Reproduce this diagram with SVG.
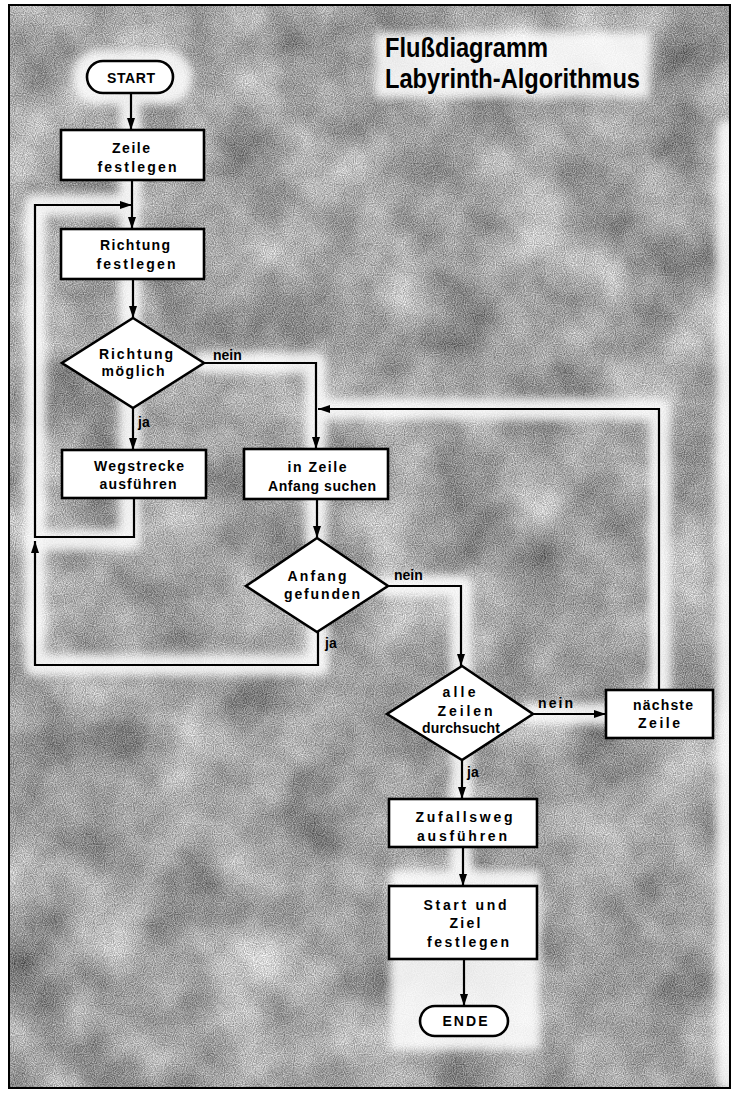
<svg xmlns="http://www.w3.org/2000/svg" width="733" height="1093" viewBox="0 0 733 1093">
<style>
.node{fill:#fff;stroke:#000;stroke-width:2.6}
.t{font-family:"Liberation Sans",Arial,sans-serif;font-size:14px;font-weight:bold;fill:#000;text-anchor:middle}
.lbl{font-family:"Liberation Sans",Arial,sans-serif;font-size:14px;font-weight:bold;fill:#000}
.title{font-family:"Liberation Sans Narrow","Liberation Sans",Arial,sans-serif;font-size:27px;font-weight:bold;fill:#000}
.c{fill:none;stroke:#000;stroke-width:2.2}
.halo{fill:none;stroke:#fff;stroke-width:22;stroke-linejoin:round;stroke-linecap:round}
</style>
<defs>
<marker id="ah" viewBox="0 0 12 8" refX="12" refY="4" markerWidth="12" markerHeight="8" markerUnits="userSpaceOnUse" orient="auto">
<path d="M0,0 L12,4 L0,8 z" fill="#000"/>
</marker>
<filter id="tex" x="0" y="0" width="100%" height="100%" color-interpolation-filters="sRGB">
<feTurbulence type="fractalNoise" baseFrequency="0.014" numOctaves="4" seed="7" result="b0"/>
<feColorMatrix in="b0" type="matrix" values="1 0 0 0 0  1 0 0 0 0  1 0 0 0 0  0 0 0 0 1" result="blot"/>
<feTurbulence type="fractalNoise" baseFrequency="0.9" numOctaves="1" seed="3" result="f0"/>
<feColorMatrix in="f0" type="matrix" values="1 0 0 0 0  1 0 0 0 0  1 0 0 0 0  0 0 0 0 1" result="fine"/>
<feComposite in="blot" in2="fine" operator="arithmetic" k1="0" k2="0.6" k3="0.7" k4="-0.1" result="mix"/>
<feColorMatrix in="mix" type="matrix" values="0.9 0 0 0 0.14  0.9 0 0 0 0.14  0.9 0 0 0 0.14  0 0 0 0 1"/>
</filter>
<filter id="soft" x="-10%" y="-10%" width="120%" height="120%">
<feGaussianBlur stdDeviation="4"/>
</filter>
</defs>

<g id="background">
<rect x="0" y="0" width="733" height="1093" fill="#fff"/>
<rect x="9" y="5" width="721" height="1083" fill="#aaa" filter="url(#tex)"/>
<g filter="url(#soft)" opacity="0.85">
<rect x="375" y="32" width="275" height="66" fill="#fff"/>
<path class="halo" d="M130,60 V540 H35 V205 H132"/>
<path class="halo" d="M204,363 H316 V540"/>
<path class="halo" d="M318,632 V665 H35 V540"/>
<path class="halo" d="M388,586 H461 V1036"/>
<path class="halo" d="M533,714 H660 V409 H317"/>
<rect x="72" y="50" width="120" height="55" rx="25" fill="#fff"/>
<rect x="390" y="870" width="150" height="180" fill="#fff"/>
<path class="halo" d="M727,130 V1080" stroke-width="12"/>
</g>
<rect x="9" y="5" width="721" height="1083" fill="none" stroke="#000" stroke-width="2"/>
</g>

<g id="title">
<text class="title" x="385" y="57" textLength="163" lengthAdjust="spacingAndGlyphs">Flußdiagramm</text>
<text class="title" x="385" y="88" textLength="255" lengthAdjust="spacingAndGlyphs">Labyrinth-Algorithmus</text>
</g>

<g id="connectors">
<path class="c" d="M131,93 V130" marker-end="url(#ah)"/>
<path class="c" d="M132,180 V229" marker-end="url(#ah)"/>
<path class="c" d="M134,498 V537 H35 V205 H132" marker-end="url(#ah)"/>
<path class="c" d="M133,279 V318" marker-end="url(#ah)"/>
<path class="c" d="M133,408 V450" marker-end="url(#ah)"/>
<path class="c" d="M204,363 H316 V449" marker-end="url(#ah)"/>
<path class="c" d="M317,499 V538" marker-end="url(#ah)"/>
<path class="c" d="M318,632 V665 H35 V541" marker-end="url(#ah)"/>
<path class="c" d="M388,586 H461 V666" marker-end="url(#ah)"/>
<path class="c" d="M533,714 H606" marker-end="url(#ah)"/>
<path class="c" d="M659,690 V409 H318" marker-end="url(#ah)"/>
<path class="c" d="M462,760 V799" marker-end="url(#ah)"/>
<path class="c" d="M463,847 V886" marker-end="url(#ah)"/>
<path class="c" d="M464,959 V1006" marker-end="url(#ah)"/>
<text class="lbl" x="213" y="360">nein</text>
<text class="lbl" x="138" y="427">ja</text>
<text class="lbl" x="394" y="580">nein</text>
<text class="lbl" x="325" y="648">ja</text>
<text class="lbl" x="538" y="708" textLength="35">nein</text>
<text class="lbl" x="467" y="777">ja</text>
</g>

<g id="start">
<rect class="node" x="87" y="61" width="86" height="32" rx="16"/>
<text class="t" x="131" y="83" textLength="48">START</text>
</g>
<g id="zeile-festlegen">
<rect class="node" x="61" y="130" width="143" height="50"/>
<text class="t" x="131" y="153" textLength="38">Zeile</text>
<text class="t" x="137" y="172" textLength="79">festlegen</text>
</g>
<g id="richtung-festlegen">
<rect class="node" x="61" y="229" width="143" height="50"/>
<text class="t" x="135" y="250" textLength="70">Richtung</text>
<text class="t" x="136" y="269" textLength="79">festlegen</text>
</g>
<g id="richtung-moeglich">
<polygon class="node" points="133,318 204,363 133,408 62,363"/>
<text class="t" x="136" y="359" textLength="74">Richtung</text>
<text class="t" x="133" y="376" textLength="63">möglich</text>
</g>
<g id="wegstrecke">
<rect class="node" x="62" y="450" width="144" height="48"/>
<text class="t" x="139" y="471" textLength="90">Wegstrecke</text>
<text class="t" x="138" y="489" textLength="77">ausführen</text>
</g>
<g id="anfang-suchen">
<rect class="node" x="244" y="449" width="144" height="50"/>
<text class="t" x="317" y="472" textLength="59">in Zeile</text>
<text class="t" x="322" y="491" textLength="108">Anfang suchen</text>
</g>
<g id="anfang-gefunden">
<polygon class="node" points="317,538 388,586 317,632 246,586"/>
<text class="t" x="317" y="581" textLength="59">Anfang</text>
<text class="t" x="322" y="599" textLength="76">gefunden</text>
</g>
<g id="alle-zeilen">
<polygon class="node" points="462,666 533,714 462,760 387,714"/>
<text class="t" x="459" y="697" textLength="33">alle</text>
<text class="t" x="465" y="716" textLength="55">Zeilen</text>
<text class="t" x="461" y="733" textLength="78">durchsucht</text>
</g>
<g id="naechste-zeile">
<rect class="node" x="606" y="690" width="107" height="48"/>
<text class="t" x="663" y="710" textLength="60">nächste</text>
<text class="t" x="659" y="728" textLength="42">Zeile</text>
</g>
<g id="zufallsweg">
<rect class="node" x="389" y="799" width="148" height="48"/>
<text class="t" x="464" y="822" textLength="97">Zufallsweg</text>
<text class="t" x="462" y="841" textLength="90">ausführen</text>
</g>
<g id="start-ziel">
<rect class="node" x="389" y="886" width="148" height="73"/>
<text class="t" x="465" y="910" textLength="83">Start und</text>
<text class="t" x="465" y="928" textLength="31">Ziel</text>
<text class="t" x="468" y="947" textLength="82">festlegen</text>
</g>
<g id="ende">
<rect class="node" x="420" y="1006" width="88" height="30" rx="15"/>
<text class="t" x="465" y="1026" textLength="45">ENDE</text>
</g>
</svg>
